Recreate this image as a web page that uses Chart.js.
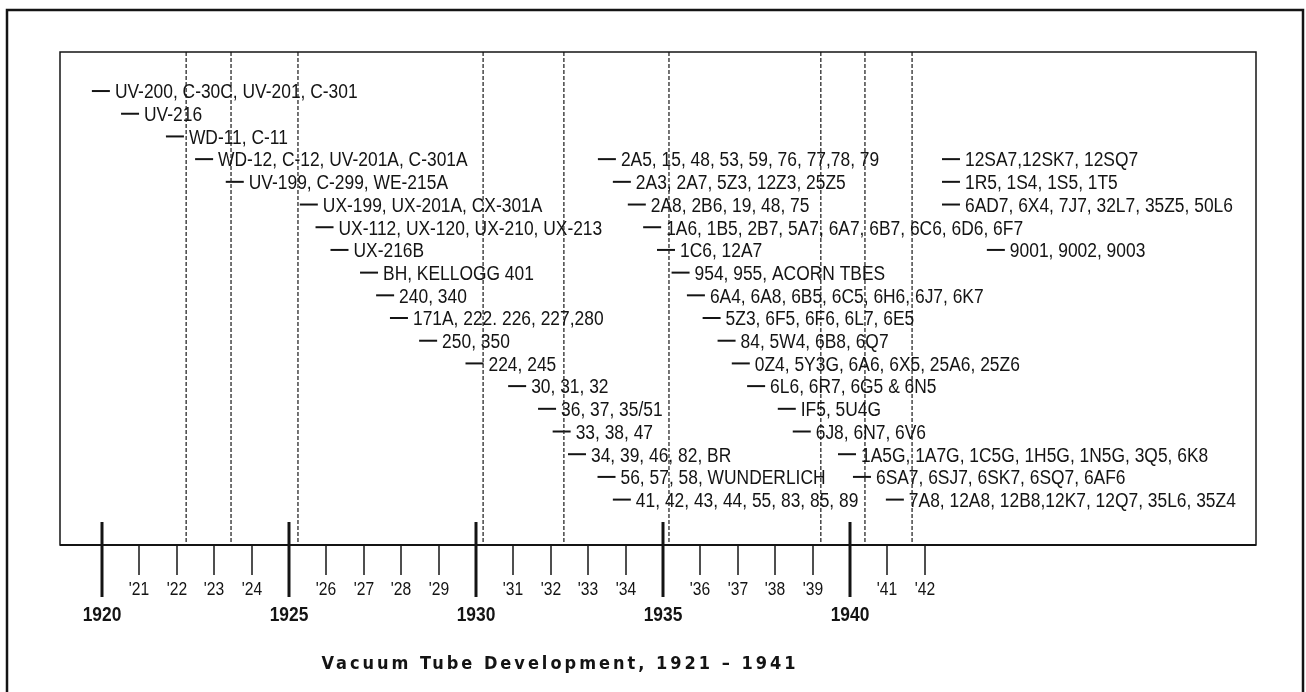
<!DOCTYPE html>
<html>
<head>
<meta charset="utf-8">
<script src="https://cdn.jsdelivr.net/npm/chart.js@4.4.1/dist/chart.umd.min.js"></script>
<style>
  html, body { margin: 0; padding: 0; background: #fff; }
  canvas { display: block; }
</style>
</head>
<body>
<canvas id="tube_chart" width="1306" height="692"></canvas>
<script>
// tube types, top to bottom in each column
var tubeLabels = [
  "UV-200, C-30C, UV-201, C-301", "UV-216", "WD-11, C-11", "WD-12, C-12, UV-201A, C-301A",
  "UV-199, C-299, WE-215A", "UX-199, UX-201A, CX-301A", "UX-112, UX-120, UX-210, UX-213",
  "UX-216B", "BH, KELLOGG 401", "240, 340", "171A, 222. 226, 227,280", "250, 350", "224, 245",
  "30, 31, 32", "36, 37, 35/51", "33, 38, 47", "34, 39, 46, 82, BR", "56, 57, 58, WUNDERLICH",
  "41, 42, 43, 44, 55, 83, 85, 89",
  "2A5, 15, 48, 53, 59, 76, 77,78, 79", "2A3, 2A7, 5Z3, 12Z3, 25Z5", "2A8, 2B6, 19, 48, 75",
  "1A6, 1B5, 2B7, 5A7, 6A7, 6B7, 6C6, 6D6, 6F7", "1C6, 12A7", "954, 955, ACORN TBES",
  "6A4, 6A8, 6B5, 6C5, 6H6, 6J7, 6K7", "5Z3, 6F5, 6F6, 6L7, 6E5", "84, 5W4, 6B8, 6Q7",
  "0Z4, 5Y3G, 6A6, 6X5, 25A6, 25Z6", "6L6, 6R7, 6G5 & 6N5", "IF5, 5U4G", "6J8, 6N7, 6V6",
  "1A5G, 1A7G, 1C5G, 1H5G, 1N5G, 3Q5, 6K8", "6SA7, 6SJ7, 6SK7, 6SQ7, 6AF6",
  "7A8, 12A8, 12B8,12K7, 12Q7, 35L6, 35Z4",
  "12SA7,12SK7, 12SQ7", "1R5, 1S4, 1S5, 1T5", "6AD7, 6X4, 7J7, 32L7, 35Z5, 50L6", "9001, 9002, 9003"
];
// where the dash of each entry sits on the time axis
var tubeYears = [
  1919.97, 1920.75, 1921.95, 1922.73, 1923.55, 1925.53, 1925.95, 1926.35, 1927.14, 1927.57,
  1927.94, 1928.72, 1929.96, 1931.10, 1931.90, 1932.29, 1932.70, 1933.49, 1933.90,
  1933.50, 1933.90, 1934.30, 1934.71, 1935.08, 1935.47, 1935.88, 1936.30, 1936.70, 1937.08,
  1937.49, 1938.31, 1938.71, 1939.92, 1940.32, 1941.20,
  1942.70, 1942.70, 1942.70, 1943.90
];
// text row, counted from the top
var tubeRows = [
  0, 1, 2, 3, 4, 5, 6, 7, 8, 9, 10, 11, 12, 13, 14, 15, 16, 17, 18,
  3, 4, 5, 6, 7, 8, 9, 10, 11, 12, 13, 14, 15, 16, 17, 18,
  3, 4, 5, 7
];
// dashed dividers
var dividerYears = [1922.25, 1923.45, 1925.24, 1930.19, 1932.35, 1935.16, 1939.22, 1940.40, 1941.66];

var tickYears = [1920, 1921, 1922, 1923, 1924, 1925, 1926, 1927, 1928, 1929, 1930,
  1931, 1932, 1933, 1934, 1935, 1936, 1937, 1938, 1939, 1940, 1941, 1942];
var tickLabels = ["1920", "'21", "'22", "'23", "'24", "1925", "'26", "'27", "'28", "'29", "1930",
  "'31", "'32", "'33", "'34", "1935", "'36", "'37", "'38", "'39", "1940", "'41", "'42"];
var majorYears = [1920, 1925, 1930, 1935, 1940];

var chartTitle = "Vacuum Tube Development, 1921 \u2013 1941";

var FONT = "'Liberation Sans', Arial, sans-serif";
var TITLE_FONT = "'DejaVu Sans Condensed', 'DejaVu Sans', sans-serif";
var NARROW = 0.87;   // squeeze Liberation Sans into a condensed face
var INK = '#141414';
var ROW_MIN = -1.72, ROW_MAX = 20;

var entries = tubeYears.map(function(year, i) {
  return { x: year, y: tubeRows[i] };
});

var datasets = dividerYears.map(function(year) {
  return {
    data: [{ x: year, y: ROW_MIN }, { x: year, y: ROW_MAX }],
    showLine: true,
    borderColor: '#2a2a2a',
    borderWidth: 1.3,
    borderDash: [4, 2],
    pointRadius: 0
  };
});
datasets.push({
  data: entries,
  pointStyle: 'line',
  pointRadius: 9,
  pointBorderWidth: 2,
  pointBorderColor: INK,
  clip: false
});

function narrowText(ctx, text, x, y) {
  ctx.save();
  ctx.translate(x, y);
  ctx.scale(NARROW, 1);
  ctx.fillText(text, 0, 0);
  ctx.restore();
}

var tubeText = {
  id: 'tubeText',
  afterDatasetsDraw: function(chart) {
    var ctx = chart.ctx;
    var meta = chart.getDatasetMeta(chart.data.datasets.length - 1);
    ctx.save();
    ctx.fillStyle = INK;
    ctx.font = '20px ' + FONT;
    ctx.textAlign = 'left';
    ctx.textBaseline = 'alphabetic';
    meta.data.forEach(function(pt, i) {
      narrowText(ctx, tubeLabels[i], pt.x + 9 + 5, pt.y + 7.3);
    });
    ctx.restore();
  }
};

var timeline = {
  id: 'timeline',
  afterDraw: function(chart) {
    var ctx = chart.ctx, area = chart.chartArea, xs = chart.scales.x;
    ctx.save();
    ctx.strokeStyle = INK;
    ctx.fillStyle = INK;

    // outer frame
    ctx.lineWidth = 2.5;
    ctx.strokeRect(7, 10, 1296, 700);

    // inner frame
    ctx.lineWidth = 1.5;
    ctx.strokeRect(area.left, area.top, area.right - area.left, area.bottom - area.top);

    // axis line
    ctx.lineWidth = 2;
    ctx.beginPath();
    ctx.moveTo(area.left, area.bottom);
    ctx.lineTo(area.right, area.bottom);
    ctx.stroke();

    ctx.textAlign = 'center';
    ctx.textBaseline = 'middle';
    tickYears.forEach(function(year, i) {
      var px = Math.round(xs.getPixelForValue(year));
      var major = majorYears.indexOf(year) >= 0;
      ctx.lineWidth = major ? 3 : 1.5;
      ctx.beginPath();
      ctx.moveTo(px, major ? area.bottom - 23 : area.bottom);
      ctx.lineTo(px, area.bottom + (major ? 52 : 30));
      ctx.stroke();
      ctx.font = major ? 'bold 20px ' + FONT : '18px ' + FONT;
      narrowText(ctx, tickLabels[i], px, area.bottom + (major ? 70 : 45));
    });

    // caption
    ctx.font = 'bold 18px ' + TITLE_FONT;
    ctx.letterSpacing = '3px';
    ctx.fillText(chartTitle, 560, 664);
    ctx.restore();
  }
};

new Chart('tube_chart', {
  type: 'scatter',
  data: { datasets: datasets },
  options: {
    responsive: false,
    animation: false,
    events: [],
    layout: { padding: { left: 60, right: 50, top: 52, bottom: 147 } },
    scales: {
      x: { type: 'linear', display: false, min: 1918.877, max: 1950.856 },
      y: { type: 'linear', display: false, reverse: true, min: ROW_MIN, max: ROW_MAX }
    },
    plugins: {
      legend: { display: false },
      tooltip: { enabled: false },
      title: { display: false }
    }
  },
  plugins: [tubeText, timeline]
});
</script>
</body>
</html>
